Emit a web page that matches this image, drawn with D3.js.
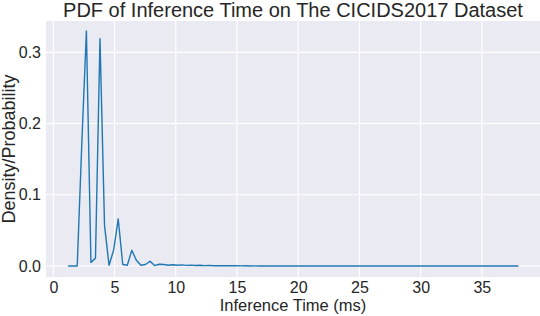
<!DOCTYPE html>
<meta charset="utf-8">

<style type="text/css">

    body {
        margin: 0;
        background: #fff;
    }

    text {
        font-family: "Liberation Sans", Arial, sans-serif;
        fill: #262626;
    }

    .bg-screen {
        fill: #eaeaf2;
    }

    .grid line {
        stroke: #fff;
        stroke-width: 1.1;
    }

    path.domain {
        display: none;
    }

    .axis .tick line {
        display: none;
    }

    .axis text {
        font-size: 16px;
    }

    .pdf-line {
        fill: none;
        stroke: #1f77b4;
        stroke-width: 1.4;
        stroke-linejoin: round;
    }

</style>

<body></body>

<script src="https://cdnjs.cloudflare.com/ajax/libs/d3/7.8.5/d3.min.js"></script>

<script>

// bin centres (ms) of the inference time histogram
var timeMs = [
    1.21, 1.58, 1.95, 2.32, 2.70, 3.07, 3.44, 3.81, 4.18, 4.55,
    4.92, 5.30, 5.67, 6.04, 6.41, 6.78, 7.15, 7.52, 7.90, 8.27,
    8.64, 9.01, 9.38, 9.75, 10.12, 10.50, 10.87, 11.24, 11.61, 11.98,
    12.35, 12.72, 13.09, 13.47, 13.84, 14.21, 14.58, 14.95, 15.32, 15.69,
    16.07, 16.44, 16.81, 17.18, 17.55, 17.92, 18.29, 18.67, 19.04, 19.41,
    19.78, 20.15, 20.52, 20.89, 21.27, 21.64, 22.01, 22.38, 22.75, 23.12,
    23.49, 23.87, 24.24, 24.61, 24.98, 25.35, 25.72, 26.09, 26.46, 26.84,
    27.21, 27.58, 27.95, 28.32, 28.69, 29.06, 29.44, 29.81, 30.18, 30.55,
    30.92, 31.29, 31.66, 32.04, 32.41, 32.78, 33.15, 33.52, 33.89, 34.26,
    34.64, 35.01, 35.38, 35.75, 36.12, 36.49, 36.86, 37.23, 37.61, 37.98
];

var density = [
    0, 0, 0, 0.17, 0.330, 0.005, 0.011, 0.319, 0.057, 0.001,
    0.022, 0.066, 0.002, 0.001, 0.022, 0.008, 0.001, 0.002, 0.0066, 0.0005,
    0.0024, 0.002, 0.001, 0.0018, 0.001, 0.0015, 0.0008, 0.0012, 0.0006, 0.001,
    0.0005, 0.0008, 0.0003, 0.0005, 0.0002, 0.0004, 0.0002, 0.0003, 0.0001, 0.0002,
    0, 0.0001, 0, 0.0001, 0, 0, 0.0001, 0, 0, 0,
    0, 0, 0, 0, 0, 0, 0, 0, 0, 0,
    0, 0, 0, 0, 0, 0, 0, 0, 0, 0,
    0, 0, 0, 0, 0, 0, 0, 0, 0, 0,
    0, 0, 0, 0, 0, 0, 0, 0, 0, 0,
    0, 0, 0, 0, 0, 0, 0, 0, 0, 0
];

var xTicks = [0, 5, 10, 15, 20, 25, 30, 35];
var yTicks = [0, 0.1, 0.2, 0.3];

var title = "PDF of Inference Time on The CICIDS2017 Dataset";
var xLabel = "Inference Time (ms)";
var yLabel = "Density/Probability";

var W = 540, H = 316;
var margin = {top: 21, right: 0, bottom: 39, left: 46};

var w = W - margin.left - margin.right,
    h = H - margin.top - margin.bottom;

var data = timeMs.map(function(t, i) {
    return {t: t, p: density[i]};
});

var svg = d3.select("body").append("svg")
    .attr("width", W)
    .attr("height", H);

var g = svg.append("g")
    .attr("transform", "translate(" + margin.left + "," + margin.top + ")");

// matplotlib style 5% padding round the data
var xscale = d3.scaleLinear()
    .domain([-0.6, 39.75])
    .range([0, w]);

var yscale = d3.scaleLinear()
    .domain([-0.0155, 0.344])
    .range([h, 0]);

g.append("rect")
    .attr("class", "bg-screen")
    .attr("width", w)
    .attr("height", h);

g.append("g")
    .attr("class", "grid")
    .selectAll("line")
    .data(xTicks)
    .enter().append("line")
    .attr("x1", function(d) { return xscale(d); })
    .attr("x2", function(d) { return xscale(d); })
    .attr("y1", 0)
    .attr("y2", h);

g.append("g")
    .attr("class", "grid")
    .selectAll("line")
    .data(yTicks)
    .enter().append("line")
    .attr("x1", 0)
    .attr("x2", w)
    .attr("y1", function(d) { return yscale(d); })
    .attr("y2", function(d) { return yscale(d); });

var xaxis = d3.axisBottom(xscale)
    .tickValues(xTicks)
    .tickSize(0)
    .tickPadding(5)
    .tickFormat(d3.format("d"));

var yaxis = d3.axisLeft(yscale)
    .tickValues(yTicks)
    .tickSize(0)
    .tickPadding(5)
    .tickFormat(d3.format(".1f"));

g.append("g")
    .attr("class", "axis")
    .attr("transform", "translate(0," + h + ")")
    .call(xaxis);

g.append("g")
    .attr("class", "axis")
    .call(yaxis);

var line = d3.line()
    .x(function(d) { return xscale(d.t); })
    .y(function(d) { return yscale(d.p); });

g.append("path")
    .datum(data)
    .attr("class", "pdf-line")
    .attr("d", line);

svg.append("text")
    .attr("x", margin.left + w / 2)
    .attr("y", 17)
    .attr("text-anchor", "middle")
    .style("font-size", "20px")
    .text(title);

svg.append("text")
    .attr("x", margin.left + w / 2)
    .attr("y", 311)
    .attr("text-anchor", "middle")
    .style("font-size", "16.5px")
    .text(xLabel);

svg.append("text")
    .attr("transform", "translate(15," + (margin.top + h / 2) + ") rotate(-90)")
    .attr("text-anchor", "middle")
    .style("font-size", "18px")
    .text(yLabel);

</script>
